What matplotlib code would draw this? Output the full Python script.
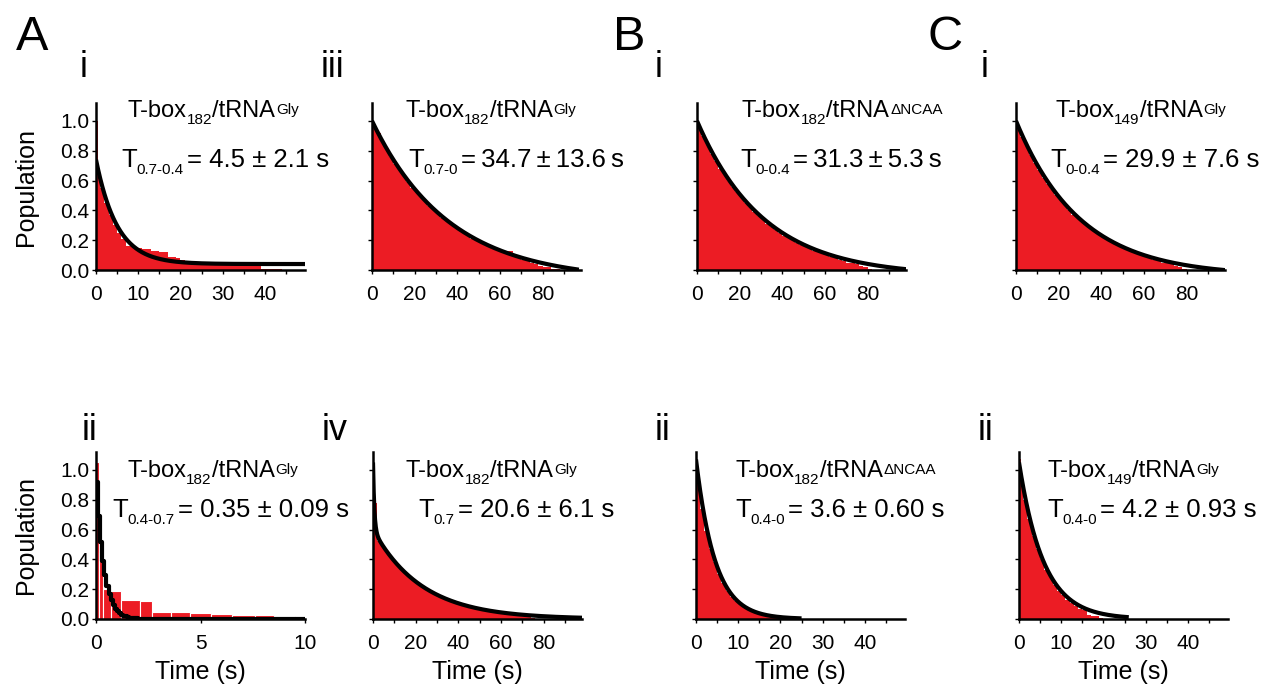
import numpy as np
import matplotlib
matplotlib.use("Agg")
import matplotlib.pyplot as plt

plt.rcParams["font.family"] = ["Liberation Sans", "DejaVu Sans"]

RED = "#ec1c24"
W, H = 1262, 685

# --- dwell-time histograms (survival fraction per bin) and fitted decays ---

# A i  T-box182/tRNA-Gly, 0.7 -> 0.4
ai_width = 1.0
ai_hist = [0.66, 0.55, 0.45, 0.37, 0.30, 0.25, 0.21, 0.16, 0.16, 0.15, 0.15,
           0.14, 0.14, 0.13, 0.13, 0.12, 0.12, 0.09, 0.09, 0.08, 0.07, 0.05,
           0.05, 0.05, 0.05, 0.05, 0.05, 0.05, 0.05, 0.04, 0.04, 0.04, 0.04,
           0.04, 0.04, 0.04, 0.04, 0.04, 0.04, 0.01, 0.01, 0.01, 0.01, 0.01]
ai_spike = 1.0
ai_amp, ai_tau, ai_off = [0.70], [5.0], 0.04

# A ii  0.4 -> 0.7 (uneven bins)
aii_edges = [0, 0.15, 0.35, 0.7, 1.2, 2.1, 2.7, 3.6, 4.5, 5.5, 6.5, 7.6, 8.5, 9.5, 10.0]
aii_hist = [1.05, 0.45, 0.20, 0.19, 0.13, 0.12, 0.05, 0.05, 0.04, 0.035, 0.03,
            0.025, 0.02, 0.02]
aii_amp, aii_tau, aii_off = [0.92], [0.35], 0.0

# A iii  0.7 -> 0
aiii_width = 2.0
aiii_hist = [0.98, 0.92, 0.86, 0.81, 0.76, 0.71, 0.67, 0.63, 0.59, 0.55, 0.52,
             0.50, 0.46, 0.43, 0.40, 0.38, 0.35, 0.33, 0.31, 0.29, 0.27, 0.25,
             0.23, 0.21, 0.20, 0.19, 0.18, 0.17, 0.14, 0.13, 0.13, 0.13, 0.13,
             0.10, 0.08, 0.07, 0.06, 0.05, 0.04, 0.03, 0.02, 0.02, 0.01, 0.01]
aiii_amp, aiii_tau, aiii_off = [1.07], [36.0], -0.07

# A iv  0.7 state
aiv_width = 2.0
aiv_hist = [0.78, 0.52, 0.48, 0.44, 0.40, 0.37, 0.34, 0.31, 0.28, 0.26, 0.24,
            0.22, 0.20, 0.18, 0.17, 0.15, 0.14, 0.13, 0.12, 0.11, 0.10, 0.09,
            0.08, 0.07, 0.07, 0.06, 0.06, 0.05, 0.05, 0.04, 0.04, 0.03, 0.03,
            0.03, 0.02, 0.02, 0.02, 0.01]
aiv_spike = 1.04
aiv_amp, aiv_tau, aiv_off = [0.45, 0.60], [0.6, 23.0], 0.0

# B i  T-box182/tRNA-dNCAA, 0 -> 0.4
bi_width = 2.0
bi_hist = [0.97, 0.90, 0.84, 0.78, 0.73, 0.68, 0.64, 0.60, 0.56, 0.52, 0.49,
           0.45, 0.42, 0.39, 0.36, 0.34, 0.31, 0.29, 0.27, 0.25, 0.23, 0.22,
           0.20, 0.18, 0.17, 0.16, 0.14, 0.13, 0.12, 0.11, 0.10, 0.09, 0.08,
           0.07, 0.06, 0.05, 0.05, 0.04, 0.03, 0.02, 0.01]
bi_amp, bi_tau, bi_off = [1.04], [31.3], -0.04

# B ii  0.4 -> 0
bii_width = 1.0
bii_hist = [0.93, 0.74, 0.59, 0.47, 0.38, 0.30, 0.24, 0.19, 0.15, 0.12, 0.10,
            0.08, 0.06, 0.05, 0.04, 0.03, 0.02, 0.02, 0.01, 0.01]
bii_amp, bii_tau, bii_off = [1.07], [4.5], 0.0

# C i  T-box149/tRNA-Gly, 0 -> 0.4
ci_width = 2.0
ci_hist = [0.96, 0.89, 0.83, 0.77, 0.72, 0.67, 0.62, 0.58, 0.54, 0.50, 0.47,
           0.44, 0.40, 0.37, 0.35, 0.32, 0.30, 0.28, 0.26, 0.24, 0.22, 0.20,
           0.19, 0.17, 0.16, 0.15, 0.13, 0.12, 0.11, 0.10, 0.09, 0.08, 0.07,
           0.06, 0.05, 0.05, 0.04, 0.03, 0.02, 0.01]
ci_amp, ci_tau, ci_off = [1.04], [29.9], -0.04

# C ii  0.4 -> 0
cii_width = 1.0
cii_hist = [0.93, 0.80, 0.67, 0.56, 0.47, 0.40, 0.33, 0.28, 0.23, 0.19, 0.16,
            0.13, 0.11, 0.09, 0.07, 0.06, 0.03, 0.02, 0.02, 0.01]
cii_spike = 1.07
cii_amp, cii_tau, cii_off = [1.05], [5.8], 0.0


def uniform_edges(width, hist):
    return np.arange(len(hist) + 1) * width


panels = [
    # key, left, top, xmax, edges, hist, spike, amp, tau, off, fit end, step, major, minor
    ("Ai", 96, 103, 49.5, uniform_edges(ai_width, ai_hist), ai_hist, ai_spike,
     ai_amp, ai_tau, ai_off, 50, None, 10, 5),
    ("Aiii", 372, 103, 98, uniform_edges(aiii_width, aiii_hist), aiii_hist, None,
     aiii_amp, aiii_tau, aiii_off, 97, None, 20, 10),
    ("Bi", 697, 103, 98, uniform_edges(bi_width, bi_hist), bi_hist, None,
     bi_amp, bi_tau, bi_off, 100, None, 20, 10),
    ("Ci", 1016, 103, 98, uniform_edges(ci_width, ci_hist), ci_hist, None,
     ci_amp, ci_tau, ci_off, 98, None, 20, 10),
    ("Aii", 96, 452, 10, np.array(aii_edges), aii_hist, None,
     aii_amp, aii_tau, aii_off, 10, 0.1, 5, None),
    ("Aiv", 373, 452, 98, uniform_edges(aiv_width, aiv_hist), aiv_hist, aiv_spike,
     aiv_amp, aiv_tau, aiv_off, 98, None, 20, 10),
    ("Bii", 696, 452, 49.5, uniform_edges(bii_width, bii_hist), bii_hist, None,
     bii_amp, bii_tau, bii_off, 25, None, 10, 5),
    ("Cii", 1019, 452, 49.5, uniform_edges(cii_width, cii_hist), cii_hist, cii_spike,
     cii_amp, cii_tau, cii_off, 26, None, 10, 5),
]

AX_W, AX_H = 209, 167
YMAX = 1.12

fig = plt.figure(figsize=(W / 100, H / 100), dpi=100)
for (key, left, top, xmax, edges, hist, spike, amp, tau, off, tend, step,
     major, minor) in panels:
    ax = fig.add_axes([left / W, 1 - (top + AX_H) / H, AX_W / W, AX_H / H])

    uneven = key == "Aii"
    ax.bar(edges[:-1], hist, width=np.diff(edges), align="edge", color=RED,
           edgecolor="white" if uneven else RED, linewidth=0.8 if uneven else 0)
    if spike is not None:
        ax.bar(0, spike, width=0.5 if xmax < 60 else 1.0, align="edge",
               color=RED, linewidth=0)

    if step:
        t = np.arange(0, tend + step, step)
    else:
        t = np.linspace(0, tend, 600)
    y = np.full_like(t, off)
    for a, k in zip(amp, tau):
        y += a * np.exp(-t / k)
    ax.plot(t, y, color="black", lw=3.0, solid_capstyle="butt",
            drawstyle="steps-post" if step else "default", zorder=3)

    for s in ("top", "right"):
        ax.spines[s].set_visible(False)
    for s in ("left", "bottom"):
        ax.spines[s].set_linewidth(1.8)
    majors = np.arange(0, xmax + 0.01, major)
    ax.set_xticks(majors[majors <= xmax - 0.4] if xmax > 10 else majors)
    if minor:
        ax.set_xticks(np.arange(0, xmax, minor), minor=True)
    ax.set_yticks([0, 0.2, 0.4, 0.6, 0.8, 1.0])
    ax.set_xlim(0, xmax)
    ax.set_ylim(0, YMAX)
    ax.tick_params(axis="both", which="both", direction="out", length=3,
                   width=1.0, labelsize=15, pad=8)
    ax.tick_params(axis="y", pad=2)
    if key in ("Ai", "Aii"):
        ax.set_yticklabels(["0.0", "0.2", "0.4", "0.6", "0.8", "1.0"])
        ax.set_ylabel("Population", fontsize=18, labelpad=16)
    else:
        ax.set_yticklabels([])
    if key in ("Aii", "Aiv", "Bii", "Cii"):
        ax.set_xlabel("Time (s)", fontsize=18, labelpad=5)

renderer = fig.canvas.get_renderer()


def rich(x, y, parts):
    """Place text pieces one after another; x, y are pixels from top-left."""
    cx = x
    for s, size, dy, gap in parts:
        cx += gap
        t = fig.text(cx, H - y + dy, s, fontsize=size, ha="left", va="baseline",
                     transform=None)
        cx = t.get_window_extent(renderer=renderer).x1


def title(x, y, sub, sup):
    rich(x, y, [("T-box", 17, 0, 0), (sub, 11, -7, 0), ("/tRNA", 17, 0, 0),
                (sup, 11, 3, 1)])


def stat(x, y, sub, rest, size=18.5):
    rich(x, y, [("T", size, 0, 0), (sub, 11, -7, 0), (rest, size, 0, 3)])


THIN = "\u2009"

# panel headers
title(128, 117, "182", "Gly")
stat(121, 167, "0.7-0.4", "= 4.5 ± 2.1 s")
title(405, 117, "182", "Gly")
stat(408, 167, "0.7-0", f"={THIN}34.7{THIN}±{THIN}13.6{THIN}s")
title(742, 117, "182", "ΔNCAA")
stat(740, 167, "0-0.4", f"={THIN}31.3{THIN}±{THIN}5.3{THIN}s")
title(1055, 117, "149", "Gly")
stat(1050, 167, "0-0.4", "= 29.9 ± 7.6 s")

title(127, 477, "182", "Gly")
stat(112, 517, "0.4-0.7", "= 0.35 ± 0.09 s")
title(406, 477, "182", "Gly")
stat(418, 517, "0.7", "= 20.6 ± 6.1 s")
title(735, 477, "182", "ΔNCAA")
stat(735, 517, "0.4-0", "= 3.6 ± 0.60 s")
title(1048, 477, "149", "Gly")
stat(1047, 517, "0.4-0", "= 4.2 ± 0.93 s")

# panel letters and sub-panel numerals
for s, x in (("A", 16), ("B", 613), ("C", 928)):
    fig.text(x, H - 50, s, fontsize=35, ha="left", va="baseline", transform=None)
for s, x, y in (("i", 80, 77), ("iii", 321, 77), ("i", 655, 77), ("i", 981, 77),
                ("ii", 82, 440), ("iv", 322, 440), ("ii", 655, 440),
                ("ii", 978, 440)):
    fig.text(x, H - y, s, fontsize=26, ha="left", va="baseline", transform=None)

fig.savefig("out.png", dpi=100)
